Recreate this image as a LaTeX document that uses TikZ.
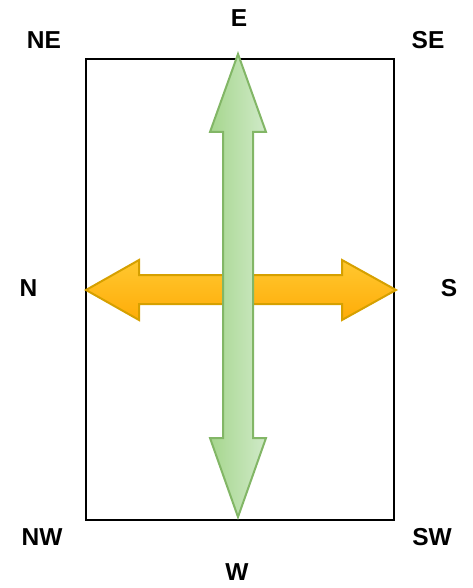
\documentclass[tikz,border=0pt]{standalone}
\usepackage{fontspec}
\setmainfont{Liberation Sans}
\begin{document}
\begin{tikzpicture}[x=1pt,y=-1pt,
  lbl/.style={font=\fontsize{24.5}{28}\selectfont\bfseries, inner sep=0pt, anchor=center},
  frame/.style={draw=black, line width=2.4pt},
  greenarrow/.style={draw={rgb,255:red,130;green,182;blue,102}, line width=2pt, line join=miter, left color={rgb,255:red,166;green,214;blue,142}, right color={rgb,255:red,208;green,234;blue,200}},
  orangearrow/.style={draw={rgb,255:red,214;green,160;blue,0}, line width=2pt, line join=miter, top color={rgb,255:red,255;green,200;blue,48}, bottom color={rgb,255:red,255;green,172;blue,8}}
]
\useasboundingbox (0,0) rectangle (473,588);
\coordinate (tl) at (86,59);
\coordinate (br) at (394,520);
\draw[frame] (tl) rectangle (br);
% orange horizontal arrow
\path[orangearrow] (86,290) -- (139,260) -- (139,275) -- (342,275) -- (342,260) -- (396,290) -- (342,320) -- (342,304) -- (139,304) -- (139,320) -- cycle;
% green vertical arrow
\path[greenarrow] (238,54) -- (266,132) -- (253,132) -- (253,438) -- (266,438) -- (238,517) -- (210,438) -- (223,438) -- (223,132) -- (210,132) -- cycle;
\node[lbl] (E) at (239,18) {E};
\node[lbl] (NE) at (44,40) {NE};
\node[lbl] (SE) at (428,40) {SE};
\node[lbl] (N) at (28.5,288) {N};
\node[lbl] (S) at (449,288) {S};
\node[lbl] (NW) at (42,537) {NW};
\node[lbl] (SW) at (432,537) {SW};
\node[lbl] (W) at (237,572) {W};
\end{tikzpicture}
\end{document}
